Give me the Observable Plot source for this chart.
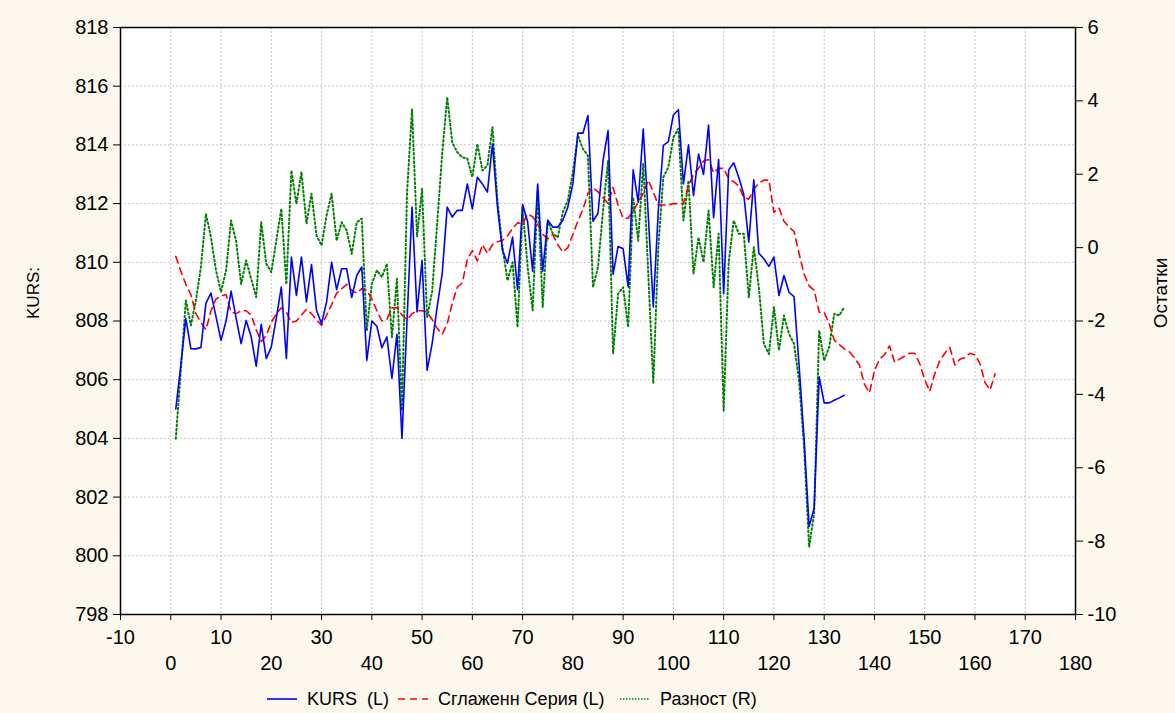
<!DOCTYPE html>
<html>
<head>
<meta charset="utf-8">
<script src="https://cdn.jsdelivr.net/npm/d3@7"></script>
<script src="https://cdn.jsdelivr.net/npm/@observablehq/plot@0.6"></script>
<style>
  html, body { margin: 0; padding: 0; background: #fdf8ed; }
  #wrap { position: relative; width: 1175px; height: 713px; font-family: "Liberation Sans", Arial, sans-serif; }
  #chart svg { display: block; }
  .leg { position: absolute; top: 687px; height: 24px; display: flex; align-items: center; font-size: 18px; color: #000; white-space: pre; }
  .leg svg { margin-right: 10px; }
</style>
</head>
<body>
<div id="wrap">
  <div id="chart"></div>
  <div class="leg" style="left:267px"><svg width="30" height="10"><line x1="0" y1="5" x2="30" y2="5" stroke="#0000ff" stroke-width="1.6"/></svg>KURS  (L)</div>
  <div class="leg" style="left:398px"><svg width="30" height="10"><line x1="0" y1="5" x2="30" y2="5" stroke="#ff0000" stroke-width="1.6" stroke-dasharray="7,5"/></svg>Сглаженн Серия (L)</div>
  <div class="leg" style="left:620px"><svg width="30" height="10"><line x1="0" y1="5" x2="30" y2="5" stroke="#008000" stroke-width="1.6" stroke-dasharray="1.5,1.5"/></svg>Разност (R)</div>
</div>
<script>
// Observation index runs 1..N for each series
const kurs = [805.0, 806.5, 808.08, 807.06, 807.05, 807.1, 808.61, 808.95, 808.15, 807.34,
  808.0, 809.02, 808.1, 807.23, 808.02, 807.46, 806.46, 807.89, 806.72, 807.12,
  808.1, 809.16, 806.72, 810.18, 808.87, 810.18, 808.65, 809.92, 808.36, 807.91,
  808.65, 810.0, 809.07, 809.78, 809.78, 808.8, 809.55, 809.84, 806.66, 808.0,
  807.82, 807.09, 807.46, 806.04, 807.55, 804.0, 808.0, 811.88, 808.31, 810.06,
  806.32, 807.23, 808.48, 809.61, 811.88, 811.54, 811.77, 811.77, 812.67, 811.82,
  812.9, 812.67, 812.39, 814.03, 811.88, 810.4, 809.97, 810.86, 809.07, 811.97,
  811.38, 809.7, 812.67, 809.7, 811.43, 811.2, 811.2, 811.43, 811.88, 812.67,
  814.4, 814.4, 815.0, 811.4, 811.67, 813.47, 814.49, 809.59, 810.54, 810.46,
  809.16, 813.15, 812.05, 814.54, 811.6, 808.48, 811.77, 813.98, 814.11, 815.02,
  815.2, 812.67, 814.0, 812.27, 813.69, 812.99, 814.68, 811.52, 813.5, 808.93,
  813.15, 813.39, 812.9, 812.31, 810.69, 812.81, 810.31, 810.12, 809.86, 810.18,
  808.87, 809.55, 808.98, 808.83, 806.5, 804.0, 801.0, 801.62, 806.1, 805.21,
  805.21, 805.3, 805.38, 805.47];

const smoothed = [810.2, 809.7, 809.25, 808.9, 808.25, 807.95, 807.7, 808.35, 808.75, 808.85,
  808.9, 808.3, 808.25, 808.35, 808.35, 808.2, 807.7, 807.3, 807.5, 807.95,
  808.25, 808.45, 808.3, 807.95, 808.0, 808.2, 808.4, 808.25, 808.05, 807.85,
  808.2, 808.55, 808.95, 809.1, 809.25, 809.05, 808.95, 809.1, 809.05, 808.75,
  808.35, 808.0, 808.05, 808.45, 808.45, 808.2, 808.05, 808.25, 808.35, 808.35,
  808.3, 808.05, 807.75, 807.55, 807.9, 808.6, 809.15, 809.3, 810.1, 810.4,
  810.05, 810.6, 810.3, 810.6, 810.7, 810.75, 810.9, 811.15, 811.35, 811.3,
  811.65, 811.55, 811.3, 810.95, 810.8, 810.95, 810.6, 810.35, 810.5, 810.95,
  811.4, 811.8, 812.35, 812.55, 812.4, 812.2, 812.0, 812.55, 811.95, 811.5,
  811.5, 811.75, 812.05, 812.35, 812.8, 812.4, 811.95, 811.95, 811.95, 812.0,
  812.0, 812.0, 812.6, 813.0, 813.2, 813.45, 813.5, 813.05, 813.2, 813.2,
  812.85, 812.75, 812.6, 812.2, 812.15, 812.5, 812.7, 812.8, 812.8, 811.7,
  811.85, 811.4, 811.2, 811.05, 810.3, 809.6, 809.2, 809.05, 808.3, 808.3,
  807.9, 807.35, 807.2, 807.05, 806.95, 806.75, 806.5, 805.85, 805.55, 806.3,
  806.7, 806.85, 807.15, 806.6, 806.7, 806.8, 806.9, 806.9, 806.55, 806.0,
  805.6, 806.2, 806.65, 806.9, 807.1, 806.5, 806.7, 806.75, 806.9, 806.85,
  806.55, 805.9, 805.65, 806.2];

const residual = [-5.21, -3.35, -1.44, -2.12, -1.44, -0.53, 0.92, 0.28, -0.62, -1.21,
  -0.62, 0.74, 0.19, -0.99, -0.35, -0.85, -1.35, 0.69, -0.44, -0.67,
  0.19, 1.06, -1.0, 2.1, 1.19, 2.06, 0.65, 1.47, 0.33, 0.06,
  0.88, 1.47, 0.19, 0.69, 0.47, -0.17, 0.69, 0.79, -2.26, -0.99,
  -0.62, -0.8, -0.44, -2.44, -0.85, -4.44, 1.47, 3.78, 0.3, 1.6,
  -1.9, -1.2, 0.65, 2.56, 4.1, 2.87, 2.6, 2.46, 2.43, 1.92,
  2.83, 2.1, 2.24, 3.28, 1.28, 0.01, -0.9, -0.4, -2.17, 1.1,
  -0.53, -1.71, 1.56, -1.62, 0.74, 0.38, 0.28, 0.97, 1.28, 2.06,
  3.06, 2.69, 2.51, -1.08, -0.53, 1.01, 2.37, -2.89, -1.26, -1.08,
  -2.17, 1.37, 0.19, 2.29, -0.71, -3.7, 0.01, 1.92, 2.19, 3.01,
  3.24, 0.74, 1.83, -0.71, 0.28, -0.4, 1.01, -1.08, 0.38, -4.44,
  -0.4, 0.74, 0.38, 0.38, -1.35, 0.01, -1.08, -2.62, -2.9, -1.62,
  -2.8, -1.85, -2.35, -2.62, -3.62, -5.44, -8.16, -7.25, -2.26, -3.08,
  -2.71, -1.8, -1.85, -1.62];

const xTicksRow1 = [-10, 10, 30, 50, 70, 90, 110, 130, 150, 170];
const xTicksRow2 = [0, 20, 40, 60, 80, 100, 120, 140, 160, 180];
const xGrid = [0, 10, 20, 30, 40, 50, 60, 70, 80, 90, 100, 110, 120, 130, 140, 150, 160, 170];
const yTicksLeft = [798, 800, 802, 804, 806, 808, 810, 812, 814, 816, 818];
const yGrid = [800, 802, 804, 806, 808, 810, 812, 814, 816];
const yTicksRight = [-10, -8, -6, -4, -2, 0, 2, 4, 6];

const leftDomain = [798, 818];
const rightDomain = [-10, 6];
const y2 = d3.scaleLinear(rightDomain, leftDomain);

const kursData = kurs.map((v, i) => ({x: i + 1, y: v}));
const smoothData = smoothed.map((v, i) => ({x: i + 1, y: v}));
const resData = residual.map((v, i) => ({x: i + 1, y: y2(v)}));

const gridStyle = {stroke: "#c4c4c4", strokeOpacity: 1, strokeWidth: 1, strokeDasharray: "2,2"};

const chart = Plot.plot({
  width: 1175,
  height: 675,
  marginTop: 27,
  marginRight: 100,
  marginBottom: 61,
  marginLeft: 120,
  x: {domain: [-10, 180]},
  y: {domain: leftDomain},
  style: {fontFamily: "'Liberation Sans', Arial, sans-serif", fontSize: "20px", background: "transparent", color: "black", overflow: "visible"},
  marks: [
    Plot.frame({fill: "white", stroke: null}),
    Plot.gridX(xGrid, gridStyle),
    Plot.gridY(yGrid, gridStyle),
    Plot.axisX(xTicksRow1, {anchor: "bottom", tickSize: 6, tickPadding: 9, tickFormat: d => String(d), label: null, fontSize: 20}),
    Plot.axisX(xTicksRow2, {anchor: "bottom", tickSize: 6, tickPadding: 35, tickFormat: d => String(d), label: null, fontSize: 20}),
    Plot.axisY(yTicksLeft, {anchor: "left", tickSize: 7, tickPadding: 5, tickFormat: d => String(d), label: null, fontSize: 20}),
    Plot.axisY(yTicksRight, {anchor: "right", y: d => y2(d), tickSize: 7, tickPadding: 5, tickFormat: d => String(d), label: null, fontSize: 20}),
    Plot.line(resData, {x: "x", y: "y", stroke: "#008000", strokeWidth: 2, strokeDasharray: "1.6,2.6"}),
    Plot.line(smoothData, {x: "x", y: "y", stroke: "#ff0000", strokeWidth: 1.6, strokeDasharray: "7,5"}),
    Plot.line(kursData, {x: "x", y: "y", stroke: "#0000ff", strokeWidth: 1.6}),
    Plot.frame({stroke: "black", strokeWidth: 1.5}),
    Plot.text(["KURS:"], {frameAnchor: "left", textAnchor: "middle", dx: -87, dy: -28, rotate: -90, fontSize: 17, fill: "black"}),
    Plot.text(["Остатки"], {frameAnchor: "right", textAnchor: "middle", dx: 85, dy: -28, rotate: -90, fontSize: 19, fill: "black"})
  ]
});
document.getElementById("chart").appendChild(chart);
</script>
</body>
</html>
